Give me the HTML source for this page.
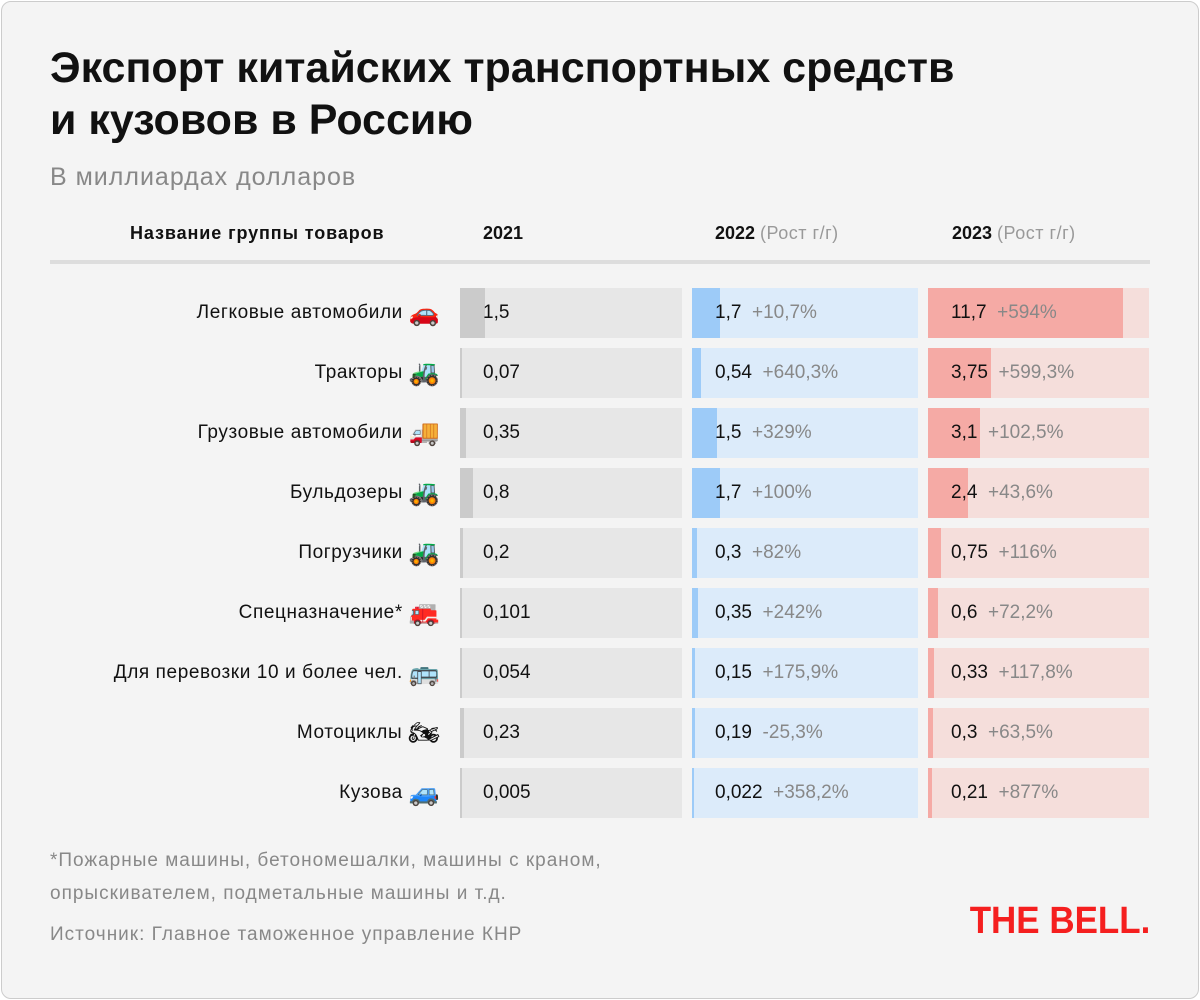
<!DOCTYPE html>
<html><head><meta charset="utf-8"><style>
body{margin:0;width:1200px;height:1000px;background:#fff;font-family:"Liberation Sans","DejaVu Sans",sans-serif;}
.card{position:absolute;left:1px;top:1px;width:1196px;height:996px;background:#f4f4f4;border:1px solid #ccc;border-radius:10px;}
.abs{position:absolute;white-space:nowrap;}
.t{left:50px;top:42px;font-size:43px;font-weight:bold;line-height:52px;color:#111;letter-spacing:0px}
.sub{left:50px;top:163px;font-size:25px;color:#888;letter-spacing:1px}
.h{top:223px;font-size:18px;font-weight:bold;color:#111}
.h span{font-weight:normal;color:#999;letter-spacing:0.5px}
.div{left:50px;top:260px;width:1100px;height:4px;background:#ddd}
.cell{position:absolute;height:50px;font-size:19px;line-height:50px;color:#111}
.bar{position:absolute;left:0;top:0;height:50px}
.v{position:absolute;top:0}
.g{color:#888}
.lab{position:absolute;right:760px;height:50px;display:flex;align-items:center;font-size:19px;color:#111;white-space:nowrap;letter-spacing:0.6px}
.lab i{font-style:normal;font-size:25px;letter-spacing:0;margin-left:6px;line-height:1}
.foot{left:50px;font-size:19px;color:#888;letter-spacing:1px}
.logo{right:50px;top:900px;font-size:38px;font-weight:900;color:#f51f1f;letter-spacing:0px;transform:scaleX(0.92);transform-origin:right}
</style></head><body><div class="card"></div>
<div class="abs t">Экспорт китайских транспортных средств<br>и кузовов в Россию</div>
<div class="abs sub">В миллиардах долларов</div>
<div class="abs h" style="left:130px;letter-spacing:0.9px">Название группы товаров</div>
<div class="abs h" style="left:483px">2021</div>
<div class="abs h" style="left:715px">2022 <span>(Рост г/г)</span></div>
<div class="abs h" style="left:952px">2023 <span>(Рост г/г)</span></div>
<div class="abs div"></div>
<div id="rows"></div>
<div class="abs foot" style="top:850px">*Пожарные машины, бетономешалки, машины с краном,</div>
<div class="abs foot" style="top:883px">опрыскивателем, подметальные машины и т.д.</div>
<div class="abs foot" style="top:924px">Источник: Главное таможенное управление КНР</div>
<div class="abs logo">THE BELL.</div>
<script>
var d=[["Легковые автомобили","🚗",1.5,"1,5",1.7,"1,7","+10,7%",11.7,"11,7","+594%"],
["Тракторы","🚜",0.07,"0,07",0.54,"0,54","+640,3%",3.75,"3,75","+599,3%"],
["Грузовые автомобили","🚚",0.35,"0,35",1.5,"1,5","+329%",3.1,"3,1","+102,5%"],
["Бульдозеры","🚜",0.8,"0,8",1.7,"1,7","+100%",2.4,"2,4","+43,6%"],
["Погрузчики","🚜",0.2,"0,2",0.3,"0,3","+82%",0.75,"0,75","+116%"],
["Спецназначение*","🚒",0.101,"0,101",0.35,"0,35","+242%",0.6,"0,6","+72,2%"],
["Для перевозки 10 и более чел.","🚌",0.054,"0,054",0.15,"0,15","+175,9%",0.33,"0,33","+117,8%"],
["Мотоциклы","🏍",0.23,"0,23",0.19,"0,19","-25,3%",0.3,"0,3","+63,5%"],
["Кузова","🚙",0.005,"0,005",0.022,"0,022","+358,2%",0.21,"0,21","+877%"]];
var h="";
d.forEach(function(r,i){var y=288+i*60;
h+='<div class="lab" style="top:'+y+'px"><span>'+r[0]+'</span><i>'+r[1]+'</i></div>';
function c(x,w,bg,fg,val,txt,pct){var bw=Math.max(2,val*16.7);
return '<div class="cell" style="left:'+x+'px;top:'+y+'px;width:'+w+'px;background:'+bg+'"><div class="bar" style="width:'+bw+'px;background:'+fg+'"></div><div class="v" style="left:23px">'+txt+(pct?' &nbsp;<span class="g">'+pct+'</span>':'')+'</div></div>';}
h+=c(460,222,"#e7e7e7","#cbcbcb",r[2],r[3]);
h+=c(692,226,"#dcebfa","#9dcbf8",r[4],r[5],r[6]);
h+=c(928,221,"#f5dedb","#f5aaa5",r[7],r[8],r[9]);
});
document.getElementById("rows").innerHTML=h;
</script>
</body></html>
